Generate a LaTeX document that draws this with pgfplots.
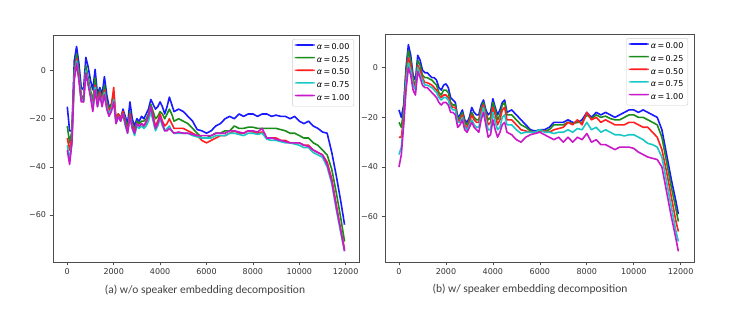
\documentclass[border=0pt]{standalone}
\usepackage{pgfplots}
\usepackage{pgfplotstable}
\pgfplotsset{compat=1.18}
\usepackage{fontspec}
\setmainfont{DejaVu Sans}
\newfontfamily\capfont{Carlito}

\definecolor{mplb}{rgb}{0.1,0.1,1}
\definecolor{mplg}{rgb}{0.1,0.55,0.1}
\definecolor{mplr}{rgb}{1,0.12,0.12}
\definecolor{mplc}{rgb}{0.1,0.78,0.78}
\definecolor{mplm}{rgb}{0.78,0.1,0.78}

% spectra without speaker embedding decomposition
\pgfplotstableread{
x b g r c m
0 -15 -23 -28 -31 -33
100 -25 -30 -33 -37 -39
200 -25 -25 -28 -30 -30
300 4 0 -2 -3 -4
400 10 7 5 4 3
500 3 0 -2 -3 -4
600 -7 -10 -12 -12 -13
700 -8 -12 -13 -13 -13
800 5.5 2 0 0 -1
900 1.5 -3 -5 -5 -6
1000 -4 -8 -10 -10 -11
1100 -8 -13 -15 -16 -17
1200 0.5 -3 -6 -7 -8
1300 -10 -13 -14 -15 -15
1400 -7 -8 -9 -10 -10
1500 -10 -12 -13 -14 -15
1600 -2.5 -6 -8 -9 -10
1700 -10 -13 -14 -15 -16
1800 -15 -16 -17 -18 -19
1900 -14 -14 -15 -16 -17
2000 -12 -9 -7 -12 -13
2100 -20 -21 -21 -22 -22
2200 -18 -18 -18 -19 -19
2300 -20 -20 -20 -21 -21
2400 -16 -17 -17 -18 -18
2500 -19 -20 -22 -23 -22
2600 -22 -24 -25 -26 -26
2700 -13 -17 -18 -19 -19
2800 -20 -22 -23 -24 -24
2900 -23 -25 -26 -27 -26
3000 -20 -21 -22 -23 -22
3100 -21 -22 -23 -24 -23
3200 -19 -21 -22 -23 -22
3300 -20 -21 -23 -24 -23
3400 -18 -20 -22 -23 -21
3500 -16 -18 -19 -21 -19
3600 -12 -14 -15 -17 -15
3700 -14 -17 -19 -21 -20
3800 -16 -20 -23 -25 -24
3900 -15 -19 -21 -23 -22
4000 -13 -17 -18 -20 -19
4100 -15 -18 -21 -23 -22
4200 -18 -20 -23 -25 -25
4300 -15 -18 -22 -24 -25
4400 -11 -16 -20 -23 -24
4500 -14 -18 -22 -25 -25
4600 -17 -21 -24 -26 -26
4800 -16 -20 -24 -26 -25.5
5000 -17 -21 -24 -26 -26
5200 -19 -22 -25 -26 -26
5400 -21 -24 -26 -27 -26.5
5600 -24.5 -26 -27 -27.5 -27
5800 -25 -28 -29 -28 -27
6000 -26 -28 -30 -28 -27
6200 -25 -27 -29 -28 -27
6400 -23 -26 -28 -27 -26
6600 -22 -26 -27 -27 -26
6800 -20 -25 -27 -27 -26
7000 -19 -25 -26 -26 -25
7200 -20 -23 -25 -26 -25
7400 -18 -24 -26 -26.5 -25.5
7600 -19 -24 -26 -27 -26
7800 -18 -23.5 -25 -26 -25
8000 -18 -23.5 -25.5 -26 -25
8200 -19 -24 -26 -26.5 -25.5
8400 -18 -24 -25.5 -26 -24
8600 -18 -24 -28 -28.5 -28
8800 -19 -24 -28 -29 -28
9000 -18.5 -24 -28 -29 -28.5
9200 -19 -24.5 -29 -29.5 -29
9400 -19 -25 -29 -30 -29.5
9600 -20 -26 -30 -30 -30
9800 -19 -26 -30 -30.5 -30
10000 -21 -27 -30 -31 -30
10200 -22 -28 -31 -32 -31
10400 -21 -28 -31 -32 -31.5
10600 -23 -30 -33 -34 -33
10800 -24 -31 -34 -35 -34
11000 -25.5 -33 -35 -36 -35
11200 -26 -35 -38 -40 -39
11400 -34 -41 -45 -47 -46
11600 -44 -51 -56 -58 -57
11800 -55 -62 -67 -68 -67
11950 -64 -71 -74 -75 -75
}\tabA

% spectra with speaker embedding decomposition
\pgfplotstableread{
x b g r c m
0 -17 -22 -28 -35 -40
100 -20 -24 -28 -32 -35
200 -15 -17 -20 -22 -23
300 0 -2 -4 -6 -9
400 9.3 7 4 2 0
500 5 3 1 -1 -3
600 -3 -5 -6 -7 -9
700 -5 -7 -8 -9 -11
800 5 3 1 0 -1.5
900 3 1 -1 -3 -4
1000 -1 -3 -4 -5 -7
1100 -2 -4 -6 -7 -8
1200 -2 -4 -6 -7 -8
1400 -4 -5 -7 -8 -10
1500 -4 -6 -8 -9 -11
1600 -5 -7 -9 -10 -12
1700 -8 -10 -11 -12 -14
1800 -9 -11 -12 -13 -15
1900 -7 -9 -11 -12 -14
2000 -6.5 -9 -11 -12 -14
2100 -8 -10 -12 -13 -15
2200 -12 -14 -15 -16 -18
2300 -13 -15 -16 -17 -18
2400 -14 -15 -16 -17 -19
2500 -20 -21 -22 -22 -24
2600 -19 -20 -21 -22 -23
2700 -17 -18 -19 -20 -21
2800 -21 -22 -23 -24 -25
2900 -22 -23 -24 -25 -26
3000 -20 -21 -22 -23 -24
3100 -16 -18 -19 -21 -22
3200 -18 -20 -21 -23 -24
3300 -19 -21 -22 -24 -25
3400 -19 -21 -22 -24 -26
3500 -15 -16 -17 -19 -21
3600 -13 -14 -15 -16 -18
3700 -17 -18 -19 -21 -23
3800 -19 -21 -23 -25 -28
3900 -18 -20 -22 -25 -27
4000 -12.5 -14 -16 -18 -21
4100 -16 -17 -19 -22 -25
4200 -19 -21 -23 -25 -28
4300 -17 -19 -21 -24 -26
4400 -14 -15 -17 -20 -23
4500 -13 -14 -16 -19 -22
4600 -18 -19 -21 -23 -26
4800 -17 -19 -21 -23 -27
5000 -19 -21 -23 -25 -29
5200 -21 -23 -25 -26.5 -30
5400 -23 -24 -25.5 -26 -28
5600 -25 -25.5 -26 -26 -27
5800 -25.5 -26 -26 -26 -26.5
6000 -25 -25 -25.5 -25 -26
6200 -25 -25.5 -25.5 -26 -27
6400 -24 -25 -26 -26 -28
6600 -22 -23 -25 -26.5 -29
6800 -22 -23 -24.5 -26 -28
7000 -22 -23 -24 -26 -30
7200 -21 -22 -22 -25 -28
7400 -22 -22.5 -23 -26 -30
7600 -22 -22 -21 -24.5 -28
7800 -21 -22 -23 -25 -29
8000 -18 -19 -18 -22 -26.5
8200 -20 -20.5 -21 -25 -30
8400 -18 -19 -20 -24 -29
8600 -19 -20 -22 -26 -31
8800 -18 -19.5 -21 -25 -31
9000 -19 -20.5 -22 -26 -32
9200 -20 -21 -23 -27 -33
9400 -19 -21 -23 -27 -32
9600 -18 -20 -23 -27.5 -32
9800 -17 -19 -22 -27 -32
10000 -17 -19 -22 -27 -32.5
10200 -18 -20 -23 -28 -34
10400 -17 -20 -24 -29 -35
10600 -18 -21 -24 -30.5 -36
10800 -19 -22 -26 -31 -36.5
11000 -20 -23 -28 -32 -37
11200 -25 -28 -33 -36 -40
11400 -35 -38 -42 -46 -50
11600 -45 -48 -52 -56 -60
11800 -54 -57 -62 -66 -69
11900 -59 -62 -66 -70 -74
}\tabB

\pgfplotsset{
  specaxis/.style={
    scale only axis,
    anchor=south west,
    scaled ticks=false,
    axis line style={black!70, line width=0.6pt},
    tick style={black!70, line width=0.6pt},
    tick align=outside,
    major tick length=3.5pt,
    xtick pos=bottom, ytick pos=left,
    tick label style={font=\fontsize{8}{9}\selectfont, text=black!80},
    xtick={0,2000,4000,6000,8000,10000,12000},
    xticklabels={0,2000,4000,6000,8000,10000,12000},
    ytick={-60,-40,-20,0},
    yticklabels={−60,−40,−20,0},
    legend cell align=left,
    legend style={
      at={(0.984,0.982)}, anchor=north east,
      font=\fontsize{8}{9}\selectfont,
      draw=black!20, rounded corners=2pt, fill=white,
      row sep=1.2pt, inner sep=2.5pt,
    },
    legend image code/.code={\fill[#1, draw=none] (0pt,1.7pt) rectangle (20pt,3.3pt);},
  },
  spec/.style={color=#1, line width=1.6pt, line join=round},
}

\newcommand{\al}[1]{\textit{α}\,=\,#1}

\begin{document}
\begin{tikzpicture}
\path[use as bounding box] (0,0) rectangle (732pt,318pt);

\begin{axis}[specaxis, at={(53pt,56pt)}, width=306pt, height=227pt,
  xmin=-616, xmax=12573, ymin=-79.5, ymax=14.8]
  \addplot[spec=mplb] table[x=x,y=b] {\tabA};
  \addlegendentry{\al{0.00}}
  \addplot[spec=mplg] table[x=x,y=g] {\tabA};
  \addlegendentry{\al{0.25}}
  \addplot[spec=mplr] table[x=x,y=r] {\tabA};
  \addlegendentry{\al{0.50}}
  \addplot[spec=mplc] table[x=x,y=c] {\tabA};
  \addlegendentry{\al{0.75}}
  \addplot[spec=mplm] table[x=x,y=m] {\tabA};
  \addlegendentry{\al{1.00}}
\end{axis}

\begin{axis}[specaxis, at={(385pt,56pt)}, width=309pt, height=228pt,
  xmin=-596, xmax=12567, ymin=-78.3, ymax=13.6,
  legend style={at={(0.981,0.982)}}]
  \addplot[spec=mplb] table[x=x,y=b] {\tabB};
  \addlegendentry{\al{0.00}}
  \addplot[spec=mplg] table[x=x,y=g] {\tabB};
  \addlegendentry{\al{0.25}}
  \addplot[spec=mplr] table[x=x,y=r] {\tabB};
  \addlegendentry{\al{0.50}}
  \addplot[spec=mplc] table[x=x,y=c] {\tabB};
  \addlegendentry{\al{0.75}}
  \addplot[spec=mplm] table[x=x,y=m] {\tabB};
  \addlegendentry{\al{1.00}}
\end{axis}

\node[font=\capfont\fontsize{11.5}{13}\selectfont, text=black!75] at (205pt,28pt)
  {(a) w/o speaker embedding decomposition};
\node[font=\capfont\fontsize{11.5}{13}\selectfont, text=black!75] at (530pt,29pt)
  {(b) w/ speaker embedding decomposition};
\end{tikzpicture}
\end{document}
